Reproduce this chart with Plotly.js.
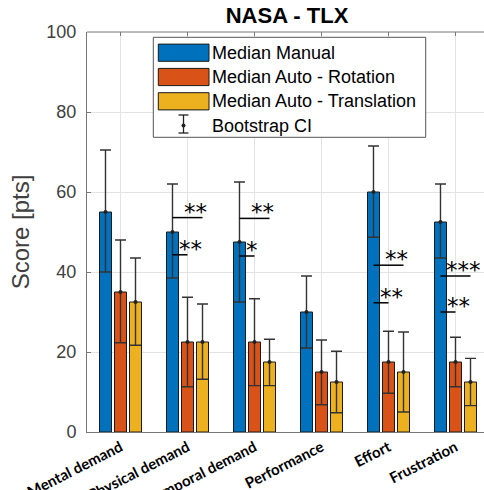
<!DOCTYPE html>
<html>
<head>
<meta charset="utf-8">
<script src="https://cdn.plot.ly/plotly-3.0.1.min.js"></script>
<style>html,body{margin:0;padding:0;background:#fff;}#chart{width:484px;height:490px;}</style>
</head>
<body>
<div id="chart"></div>
<script>
// ---- data ----
const categories = ['Mental demand', 'Physical demand', 'Temporal demand', 'Performance', 'Effort', 'Frustration'];
const seriesNames = ['Median Manual', 'Median Auto - Rotation', 'Median Auto - Translation'];

const manual        = [55, 50, 47.5, 30, 60, 52.5];
const manualLo      = [40, 38.5, 32.5, 21, 48.7, 43.5];
const manualHi      = [70.5, 62, 62.5, 39, 71.5, 62];

const rotation      = [35, 22.5, 22.5, 15, 17.5, 17.5];
const rotationLo    = [22.3, 11.3, 11.6, 6.8, 9.7, 11.3];
const rotationHi    = [48, 33.7, 33.3, 23, 25.2, 23.7];

const translation   = [32.5, 22.5, 17.5, 12.5, 15, 12.5];
const translationLo = [21.7, 13.2, 11.6, 4.8, 5, 6.6];
const translationHi = [43.5, 32, 23.2, 20.2, 25, 18.4];

// significance markers: category, compared series (1 = rotation, 2 = translation), level, stars
const sigCategory = ['Physical demand', 'Physical demand', 'Temporal demand', 'Temporal demand', 'Effort', 'Effort', 'Frustration', 'Frustration'];
const sigVs       = [2, 1, 2, 1, 2, 1, 2, 1];
const sigLevel    = [53.6, 44.3, 53.4, 44, 41.7, 32.3, 39, 30];
const sigStars    = ['**', '**', '**', '*', '**', '**', '***', '**'];

// ---- style ----
const colors = ['#0072BD', '#D95319', '#EDB120'];
const W = 484, H = 490;
const M = {l: 87, r: 0, t: 32, b: 58};
const bargap = 0.328, bargroupgap = 0.2;
const slot = (1 - bargap) / 3;
const pw = W - M.l - M.r, ph = H - M.t - M.b;
const px2x = p => (p - M.l) / pw;
const py2y = p => (H - M.b - p) / ph;
const idx = categories.map((c, i) => i);

const vals = [manual, rotation, translation];
const los = [manualLo, rotationLo, translationLo];
const his = [manualHi, rotationHi, translationHi];

const traces = vals.map((v, k) => ({
  type: 'bar',
  name: seriesNames[k],
  x: idx,
  y: v,
  marker: {color: colors[k], line: {color: '#1a1a1a', width: 1}},
  error_y: {
    type: 'data', symmetric: false,
    array: v.map((d, i) => his[k][i] - d),
    arrayminus: v.map((d, i) => d - los[k][i]),
    color: '#333333', thickness: 1.4, width: 5.5
  },
  showlegend: false,
  hoverinfo: 'none'
}));
// median dots on top of each bar (error bar centre markers)
vals.forEach((v, k) => {
  traces.push({
    type: 'scatter', mode: 'markers',
    x: idx.map(i => i + (k - 1) * slot), y: v,
    marker: {color: '#222', size: 4},
    showlegend: false, hoverinfo: 'none'
  });
});

const shapes = [];
const annotations = [];

// top border of axes box and top tick marks
shapes.push({type: 'line', xref: 'paper', yref: 'paper', x0: 0, x1: 1, y0: 1, y1: 1,
  line: {color: '#777', width: 1}});
idx.forEach(i => {
  shapes.push({type: 'line', xref: 'x', yref: 'paper', x0: i, x1: i, y0: 1, y1: 1 - 4 / ph,
    line: {color: '#777', width: 1}});
});

// significance lines and stars
const starFont = {family: 'DejaVu Sans, sans-serif', size: 23, color: '#000'};
sigCategory.forEach((c, j) => {
  const i = categories.indexOf(c);
  const xBlue = i - slot;
  const xOther = i - slot + sigVs[j] * slot;
  shapes.push({type: 'line', xref: 'x', yref: 'y', x0: xBlue, x1: xOther, y0: sigLevel[j], y1: sigLevel[j],
    line: {color: '#000', width: 1.5}});
  if (sigVs[j] === 2) {
    annotations.push({xref: 'x', yref: 'y', x: xBlue, y: sigLevel[j], text: sigStars[j], showarrow: false,
      xanchor: 'center', yanchor: 'bottom', xshift: 23, yshift: -9, font: starFont});
  } else {
    annotations.push({xref: 'x', yref: 'y', x: xBlue, y: sigLevel[j], text: sigStars[j], showarrow: false,
      xanchor: 'left', yanchor: 'bottom', xshift: 5, yshift: -9, font: starFont});
  }
});

// manual legend
const legFont = {family: 'Liberation Sans, Arial, sans-serif', size: 18, color: '#000'};
const lg = {x0: 153.3, x1: 425.7, y0: 37.3, y1: 137.3};
shapes.push({type: 'rect', xref: 'paper', yref: 'paper',
  x0: px2x(lg.x0), x1: px2x(lg.x1), y0: py2y(lg.y1), y1: py2y(lg.y0),
  fillcolor: '#fff', line: {color: '#555', width: 1}, layer: 'above'});
const rowY = [52.7, 77, 101.3, 125.6];
seriesNames.forEach((n, k) => {
  shapes.push({type: 'rect', xref: 'paper', yref: 'paper',
    x0: px2x(158.3), x1: px2x(209), y0: py2y(rowY[k] + 8.6), y1: py2y(rowY[k] - 8.6),
    fillcolor: colors[k], line: {color: '#1a1a1a', width: 1}, layer: 'above'});
  annotations.push({xref: 'paper', yref: 'paper', x: px2x(210), y: py2y(rowY[k]), text: n,
    showarrow: false, xanchor: 'left', yanchor: 'middle', font: legFont});
});
// Bootstrap CI icon
const cx = 183.5, yt = 115, yb = 133;
shapes.push({type: 'line', xref: 'paper', yref: 'paper', x0: px2x(cx), x1: px2x(cx), y0: py2y(yb), y1: py2y(yt),
  line: {color: '#222', width: 1.3}, layer: 'above'});
shapes.push({type: 'line', xref: 'paper', yref: 'paper', x0: px2x(cx - 5), x1: px2x(cx + 5), y0: py2y(yt), y1: py2y(yt),
  line: {color: '#222', width: 1.3}, layer: 'above'});
shapes.push({type: 'line', xref: 'paper', yref: 'paper', x0: px2x(cx - 5), x1: px2x(cx + 5), y0: py2y(yb), y1: py2y(yb),
  line: {color: '#222', width: 1.3}, layer: 'above'});
shapes.push({type: 'circle', xref: 'paper', yref: 'paper', x0: px2x(cx - 2), x1: px2x(cx + 2), y0: py2y(rowY[3] + 2), y1: py2y(rowY[3] - 2),
  fillcolor: '#222', line: {color: '#222', width: 0}, layer: 'above'});
annotations.push({xref: 'paper', yref: 'paper', x: px2x(210), y: py2y(rowY[3]), text: 'Bootstrap CI',
  showarrow: false, xanchor: 'left', yanchor: 'middle', font: legFont});

const layout = {
  width: W, height: H,
  margin: M,
  paper_bgcolor: '#fff', plot_bgcolor: '#fff',
  barmode: 'group', bargap: bargap, bargroupgap: bargroupgap,
  title: {text: '<b>NASA - TLX</b>', x: px2x(287), xref: 'paper', xanchor: 'center',
    y: 1 - 15 / H, yref: 'container', yanchor: 'middle',
    font: {family: 'Liberation Sans, Arial, sans-serif', size: 22, color: '#000'}},
  xaxis: {
    range: [-0.5, -0.5 + pw / 67],
    tickvals: idx, ticktext: categories,
    showgrid: true, gridcolor: '#e3e3e3', gridwidth: 1,
    showline: true, linecolor: '#777', linewidth: 1,
    ticks: '', tickangle: -27,
    tickfont: {family: 'Lato, Open Sans, sans-serif', size: 15, color: '#000', weight: 'bold'},
    fixedrange: true, zeroline: false
  },
  yaxis: {
    range: [0, 100], dtick: 20, tick0: 0,
    showgrid: true, gridcolor: '#e3e3e3', gridwidth: 1,
    showline: true, linecolor: '#777', linewidth: 1,
    ticks: 'inside', ticklen: 4, tickcolor: '#777',
    ticklabelstandoff: 6,
    tickfont: {family: 'Liberation Sans, Arial, sans-serif', size: 18, color: '#404040'},
    title: {text: 'Score [pts]', standoff: 9,
      font: {family: 'Liberation Sans, Arial, sans-serif', size: 24, color: '#404040'}},
    zeroline: false, fixedrange: true
  },
  shapes: shapes,
  annotations: annotations,
  showlegend: false
};

Plotly.newPlot('chart', traces, layout, {displayModeBar: false, staticPlot: true});
</script>
</body>
</html>
